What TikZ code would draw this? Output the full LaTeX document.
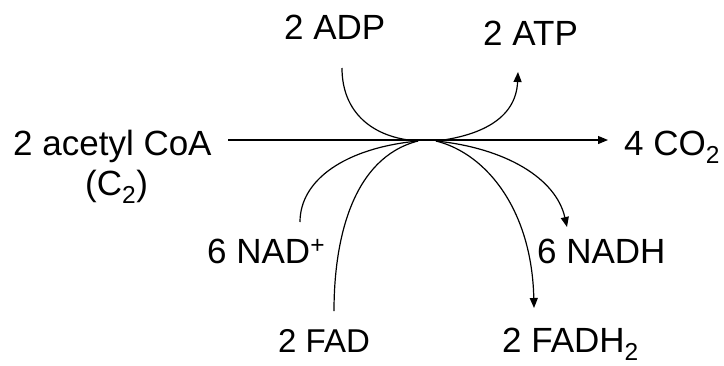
\documentclass[tikz,border=0pt]{standalone}
\usepackage{fontspec}
\setmainfont{Liberation Sans}
\usetikzlibrary{arrows.meta}
\begin{document}
\begin{tikzpicture}[x=1pt,y=-1pt,
  lbl/.style={anchor=base west,inner sep=0pt,font=\fontsize{35}{40}\selectfont},
  conn/.style={line width=1.2pt},
  arr/.style={conn,-{Triangle[length=10pt,width=8pt]}}]
\useasboundingbox (0,0) rectangle (724,365);
% labels
\node[lbl] (acoa) at (13,155) {2 acetyl CoA};
\node[lbl] (c2) at (85,195) {(C\textsubscript{2})};
\node[lbl] (co2) at (624,155) {4 CO\textsubscript{2}};
\node[lbl] (adp) at (284,39) {2 ADP};
\node[lbl] (atp) at (483,45) {2 ATP};
\node[lbl] (nad) at (207,263) {6 NAD\textsuperscript{+}};
\node[lbl] (nadh) at (537,263) {6 NADH};
\node[lbl,font=\fontsize{33}{38}\selectfont] (fad) at (278,352) {2 FAD};
\node[lbl] (fadh) at (502,352) {2 FADH\textsubscript{2}};
% connector points
\coordinate (lineS) at (228,140);
\coordinate (lineE) at (608,140);
\coordinate (hubA) at (418,141);
\coordinate (hubB) at (436,141);
\coordinate (adpS) at (342,68);
\coordinate (atpE) at (518,72);
\coordinate (nadS) at (300,222);
\coordinate (fadS) at (334,311);
\coordinate (nadhE) at (567,227);
\coordinate (fadhE) at (534,308);
% main line
\draw[arr] (lineS) -- (lineE);
% side curves
\draw[conn] (adpS) .. controls (342,112) and (372,138) .. (hubA);
\draw[arr] (hubB) .. controls (478,136) and (516,120) .. (atpE);
\draw[conn] (nadS) .. controls (300,180) and (345,148) .. (hubA);
\draw[conn] (fadS) .. controls (334,240) and (352,158) .. (hubA);
\draw[arr] (hubB) .. controls (505,148) and (556,178) .. (nadhE);
\draw[arr] (hubB) .. controls (488,154) and (532,212) .. (fadhE);
\end{tikzpicture}
\end{document}
